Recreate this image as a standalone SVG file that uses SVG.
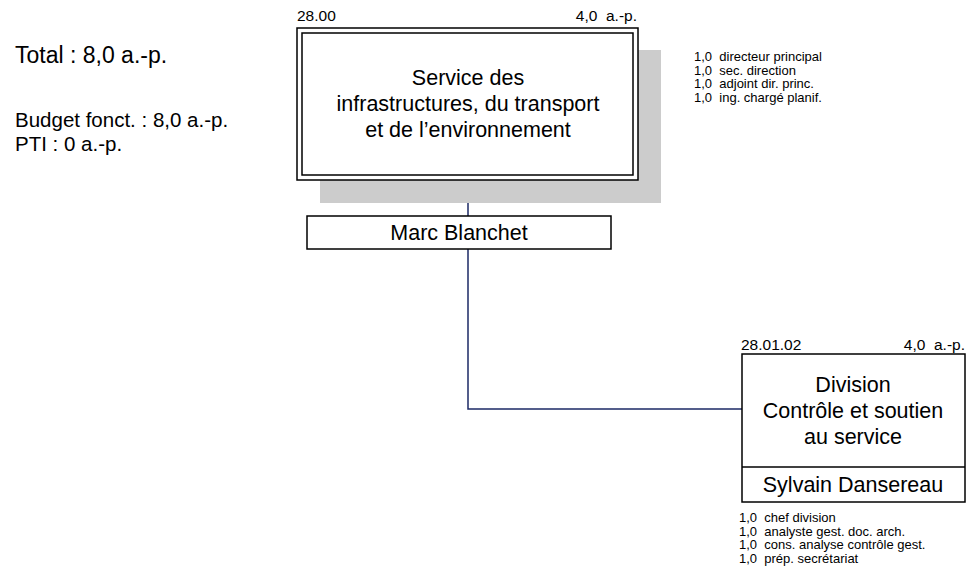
<svg xmlns="http://www.w3.org/2000/svg" width="966" height="579" viewBox="0 0 966 579" xml:space="preserve">
<style>
text{font-family:"Liberation Sans",Arial,sans-serif;fill:#000;white-space:pre}
.box{fill:#fff;stroke:#000;stroke-width:1.5}
.code{font-size:15.5px}
.title{font-size:21.5px;text-anchor:middle}
.small{font-size:13px}
.conn{fill:none;stroke:#1c2a66;stroke-width:1.5}
</style>
<rect width="966" height="579" fill="#fff"/>
<g id="summary">
<text x="15" y="63" style="font-size:23px">Total : 8,0 a.-p.</text>
<text x="15" y="127" style="font-size:20.5px">Budget fonct. : 8,0 a.-p.</text>
<text x="15" y="151" style="font-size:20.5px">PTI : 0 a.-p.</text>
</g>
<g id="connectors">
<path class="conn" d="M468 180V216M468 249V409H742"/>
</g>
<g id="service">
<rect x="320" y="50" width="341" height="153" fill="#cccccc"/>
<rect class="box" x="297" y="28" width="341" height="152"/>
<rect class="box" x="302" y="33" width="331" height="142"/>
<text class="code" x="297" y="21">28.00</text>
<text class="code" x="637" y="21" text-anchor="end">4,0  a.-p.</text>
<text class="title" x="468" y="85">Service des</text>
<text class="title" x="468" y="111">infrastructures, du transport</text>
<text class="title" x="468" y="137">et de l’environnement</text>
</g>
<g id="service-staff">
<text class="small" x="694" y="61">1,0  directeur principal</text>
<text class="small" x="694" y="74.5">1,0  sec. direction</text>
<text class="small" x="694" y="88">1,0  adjoint dir. princ.</text>
<text class="small" x="694" y="101.5">1,0  ing. chargé planif.</text>
</g>
<g id="manager">
<rect class="box" x="307" y="216" width="304" height="33"/>
<text class="title" x="459" y="240">Marc Blanchet</text>
</g>
<g id="division">
<rect class="box" x="742" y="354" width="223" height="148"/>
<line x1="742" y1="467" x2="965" y2="467" stroke="#000" stroke-width="1.5"/>
<text class="code" x="741" y="350">28.01.02</text>
<text class="code" x="965" y="350" text-anchor="end">4,0  a.-p.</text>
<text class="title" x="853" y="392">Division</text>
<text class="title" x="853" y="418">Contrôle et soutien</text>
<text class="title" x="853" y="444">au service</text>
<text class="title" x="853" y="492">Sylvain Dansereau</text>
</g>
<g id="division-staff">
<text class="small" x="739" y="522">1,0  chef division</text>
<text class="small" x="739" y="535.5">1,0  analyste gest. doc. arch.</text>
<text class="small" x="739" y="549">1,0  cons. analyse contrôle gest.</text>
<text class="small" x="739" y="562.5">1,0  prép. secrétariat</text>
</g>
</svg>
